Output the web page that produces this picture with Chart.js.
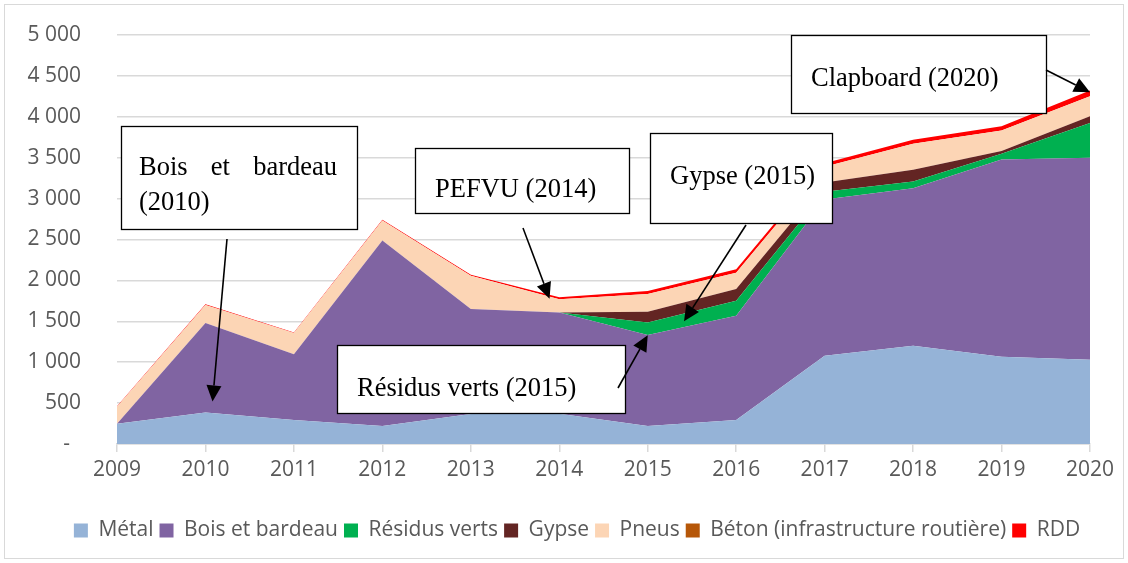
<!DOCTYPE html>
<html>
<head>
<meta charset="utf-8">
<script src="https://cdn.jsdelivr.net/npm/chart.js@4"></script>
<style>
  html, body { margin: 0; padding: 0; background: #fff; }
  #wrap { position: relative; width: 1128px; height: 563px; }
  #frame { position: absolute; left: 4px; top: 4px; width: 1118px; height: 553px; border: 1px solid #d9d9d9; pointer-events: none; }
</style>
</head>
<body>
<div id="wrap"><canvas id="chart"></canvas><div id="frame"></div></div>
<script>
const years = ['2009', '2010', '2011', '2012', '2013', '2014', '2015', '2016', '2017', '2018', '2019', '2020'];
const metal = [249, 384, 294, 220, 367, 370, 220, 294, 1078, 1200, 1066, 1029];
const bois = [0, 1094, 804, 2267, 1283, 1239, 1111, 1274, 1912, 1928, 2413, 2471];
const residus = [0, 0, 0, 0, 0, 0, 155, 184, 95, 82, 70, 424];
const gypse = [0, 0, 0, 0, 0, 0, 131, 143, 113, 142, 32, 82];
const pneus = [205, 221, 258, 245, 408, 160, 216, 200, 190, 319, 253, 245];
const beton = [0, 0, 0, 0, 0, 0, 0, 0, 0, 0, 0, 0];
const rdd = [8, 8, 8, 8, 10, 25, 38, 40, 45, 49, 49, 70];

// callouts: box [x, y, w, h] and text y in px, arrow tail in px, arrow tip in data units (year index, value)
const callouts = [
  { lines: [['Bois', 'et', 'bardeau'], ['(2010)']], box: [121, 126, 236, 103], textY: 168, tail: [227, 239], tip: [1.08, 520] },
  { lines: [['PEFVU (2014)']], box: [415, 148, 214, 65], textY: 190, tail: [523, 228], tip: [4.89, 1776] },
  { lines: [['Gypse (2015)']], box: [650, 133, 182, 90], textY: 177, tail: [746, 225], tip: [6.41, 1500] },
  { lines: [['Résidus verts (2015)']], box: [337, 345, 288, 68], textY: 389, tail: [618, 388], tip: [6.0, 1330] },
  { lines: [['Clapboard (2020)']], box: [791, 35, 255, 78], textY: 79, tail: [1046, 70], tip: [11, 4300] }
];

// excel accounting style: dash for zero, space as thousands separator
const fmt = v => v === 0 ? '-  ' : String(v).replace(/\B(?=(\d{3})+(?!\d))/g, ' ');

function series(label, data, color) {
  return {
    label: label,
    data: data,
    backgroundColor: color,
    borderColor: color,
    borderWidth: 0,
    pointRadius: 0,
    fill: label === 'Métal' ? 'origin' : '-1',
    tension: 0
  };
}

// legend is centred on the plot, not on the canvas
const legendShift = {
  id: 'legendShift',
  afterLayout(chart) {
    chart.legend.left += 64;
  }
};

const calloutPlugin = {
  id: 'callouts',
  afterDatasetsDraw(chart) {
    const ctx = chart.ctx;
    const xs = chart.scales.x, ys = chart.scales.y;
    ctx.save();
    ctx.font = '26.5px "Liberation Serif", "Times New Roman", serif';
    ctx.textBaseline = 'middle';
    callouts.forEach(c => {
      const [bx, by, bw, bh] = c.box;
      ctx.fillStyle = '#fff';
      ctx.fillRect(bx, by, bw, bh);
      ctx.strokeStyle = '#000';
      ctx.lineWidth = 1.3;
      ctx.strokeRect(bx + 0.5, by + 0.5, bw, bh);
      ctx.fillStyle = '#000';
      c.lines.forEach((words, i) => {
        const y = c.textY + i * 35;
        if (words.length > 1) {
          // justified line
          const inner = bw - 38;
          const total = words.reduce((s, w) => s + ctx.measureText(w).width, 0);
          const gap = (inner - total) / (words.length - 1);
          let x = bx + 18;
          words.forEach(w => { ctx.fillText(w, x, y); x += ctx.measureText(w).width + gap; });
        } else {
          ctx.fillText(words[0], bx + (c.lines.length === 1 ? 20 : 18), y);
        }
      });
      // arrow
      const tx = xs.getPixelForValue(c.tip[0]);
      const ty = ys.getPixelForValue(c.tip[1]);
      const [sx, sy] = c.tail;
      const ang = Math.atan2(ty - sy, tx - sx);
      const hl = 16, hw = 7.5;
      const bxp = tx - hl * Math.cos(ang), byp = ty - hl * Math.sin(ang);
      ctx.beginPath();
      ctx.moveTo(sx, sy);
      ctx.lineTo(bxp, byp);
      ctx.lineWidth = 1.6;
      ctx.stroke();
      ctx.beginPath();
      ctx.moveTo(tx, ty);
      ctx.lineTo(bxp + hw * Math.sin(ang), byp - hw * Math.cos(ang));
      ctx.lineTo(bxp - hw * Math.sin(ang), byp + hw * Math.cos(ang));
      ctx.closePath();
      ctx.fill();
    });
    ctx.restore();
  }
};

const tickFont = { family: '"Open Sans", sans-serif', size: 21, lineHeight: 1 };

new Chart(document.getElementById('chart').getContext('2d'), {
  type: 'line',
  data: {
    labels: years,
    datasets: [
      series('Métal', metal, '#95b3d7'),
      series('Bois et bardeau', bois, '#8064a2'),
      series('Résidus verts', residus, '#00b050'),
      series('Gypse', gypse, '#632523'),
      series('Pneus', pneus, '#fcd5b5'),
      series('Béton (infrastructure routière)', beton, '#b65708'),
      series('RDD', rdd, '#ff0000')
    ]
  },
  options: {
    responsive: true,
    maintainAspectRatio: false,
    animation: { duration: 0 },
    layout: { padding: { top: 35, right: 38, left: 0, bottom: 12 } },
    plugins: {
      tooltip: { enabled: false },
      legend: {
        position: 'bottom',
        labels: {
          boxWidth: 14,
          boxHeight: 14,
          padding: 6,
          color: '#595959',
          font: { family: '"Open Sans", sans-serif', size: 21 }
        }
      }
    },
    scales: {
      x: {
        offset: false,
        afterFit: s => { s.height += 25; },
        grid: { display: true, drawOnChartArea: false, drawTicks: true, tickLength: 8, color: '#d9d9d9', lineWidth: 1.5 },
        border: { display: true, color: '#d9d9d9', width: 1.5 },
        ticks: { color: '#595959', font: tickFont, padding: 8, maxRotation: 0 }
      },
      y: {
        stacked: true,
        min: 0,
        max: 5000,
        afterFit: s => { s.width = 117; },
        grid: { color: '#d9d9d9', lineWidth: 1.5, drawTicks: true, tickLength: 36, tickColor: 'rgba(0,0,0,0)' },
        border: { display: false },
        ticks: { stepSize: 500, color: '#595959', font: tickFont, padding: 0, callback: v => fmt(v) }
      }
    }
  },
  plugins: [calloutPlugin, legendShift]
});
</script>
</body>
</html>
